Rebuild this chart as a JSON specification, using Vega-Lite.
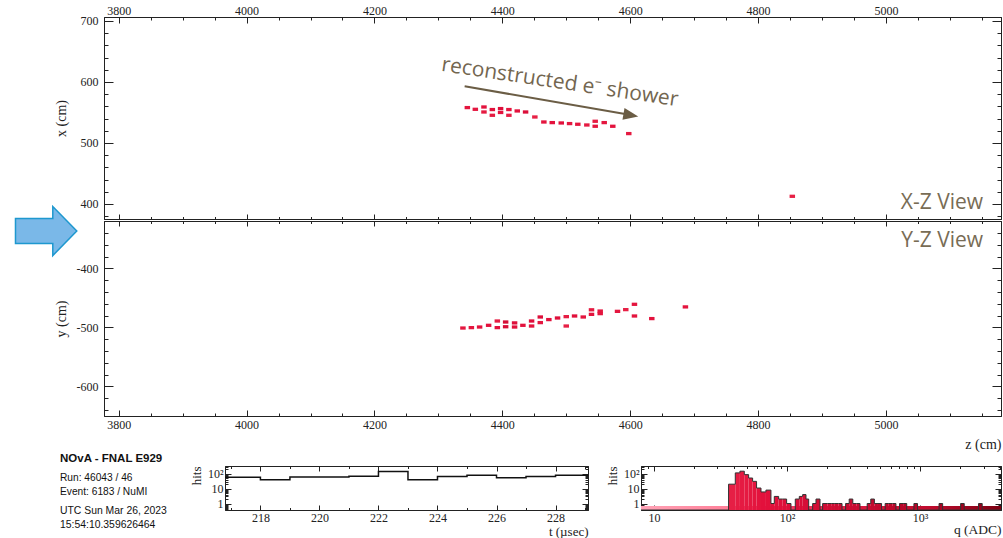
{
  "$schema": "https://vega.github.io/schema/vega-lite/v6.json",
  "background": "white",
  "padding": {"left": 11, "top": 0, "right": 0, "bottom": 0},
  "autosize": {"type": "pad"},
  "spacing": 1,
  "datasets": {
    "xz": [
      {"z": 4345.3, "x": 558.0, "q": 55}, {"z": 4357.8, "x": 555.2, "q": 50}, {"z": 4371.3, "x": 559.0, "q": 60},
      {"z": 4371.3, "x": 550.8, "q": 45}, {"z": 4384.4, "x": 554.8, "q": 70}, {"z": 4384.4, "x": 545.4, "q": 45},
      {"z": 4397.3, "x": 556.4, "q": 90}, {"z": 4397.3, "x": 550.0, "q": 60}, {"z": 4410.3, "x": 554.8, "q": 55},
      {"z": 4410.3, "x": 545.4, "q": 40}, {"z": 4423.4, "x": 552.5, "q": 60}, {"z": 4436.4, "x": 550.8, "q": 100},
      {"z": 4450.9, "x": 542.6, "q": 35}, {"z": 4465.0, "x": 534.4, "q": 55}, {"z": 4478.1, "x": 533.4, "q": 60},
      {"z": 4492.2, "x": 532.8, "q": 70}, {"z": 4505.2, "x": 531.8, "q": 50}, {"z": 4518.1, "x": 530.7, "q": 55},
      {"z": 4532.2, "x": 529.5, "q": 45}, {"z": 4545.3, "x": 535.6, "q": 40}, {"z": 4545.3, "x": 527.4, "q": 55},
      {"z": 4559.4, "x": 533.4, "q": 50}, {"z": 4572.8, "x": 527.4, "q": 60}, {"z": 4597.8, "x": 515.4, "q": 45},
      {"z": 4853.6, "x": 412.6, "q": 35}
    ],
    "yz": [
      {"z": 4338.4, "y": -501.2, "q": 50}, {"z": 4351.6, "y": -500.5, "q": 55}, {"z": 4364.5, "y": -499.5, "q": 60},
      {"z": 4378.6, "y": -496.6, "q": 65}, {"z": 4392.2, "y": -489.3, "q": 40}, {"z": 4392.2, "y": -500.5, "q": 60},
      {"z": 4405.2, "y": -491.0, "q": 150}, {"z": 4405.2, "y": -499.0, "q": 130}, {"z": 4419.2, "y": -492.5, "q": 90},
      {"z": 4419.2, "y": -499.5, "q": 70}, {"z": 4432.2, "y": -496.6, "q": 60}, {"z": 4445.8, "y": -489.3, "q": 80},
      {"z": 4445.8, "y": -497.8, "q": 55}, {"z": 4459.4, "y": -482.5, "q": 90}, {"z": 4459.4, "y": -492.0, "q": 50},
      {"z": 4472.8, "y": -486.9, "q": 70}, {"z": 4486.4, "y": -484.2, "q": 80}, {"z": 4500.0, "y": -481.9, "q": 40},
      {"z": 4500.0, "y": -497.8, "q": 35}, {"z": 4513.0, "y": -480.8, "q": 70}, {"z": 4526.6, "y": -482.5, "q": 55},
      {"z": 4539.5, "y": -470.3, "q": 45}, {"z": 4539.5, "y": -478.0, "q": 60}, {"z": 4553.1, "y": -472.4, "q": 50},
      {"z": 4553.1, "y": -476.8, "q": 55}, {"z": 4580.2, "y": -472.9, "q": 50}, {"z": 4593.1, "y": -470.0, "q": 35},
      {"z": 4606.7, "y": -461.0, "q": 55}, {"z": 4606.7, "y": -480.8, "q": 55}, {"z": 4633.8, "y": -485.2, "q": 60},
      {"z": 4686.4, "y": -465.4, "q": 55}
    ],
    "th": [
      {"t": 216, "n": 59}, {"t": 218, "n": 40}, {"t": 219, "n": 62}, {"t": 221, "n": 69}, {"t": 222, "n": 144},
      {"t": 223, "n": 40}, {"t": 224, "n": 65}, {"t": 225, "n": 81}, {"t": 226, "n": 55}, {"t": 227, "n": 65},
      {"t": 228, "n": 81}, {"t": 230, "n": 81}
    ],
    "qh": [
      {"q0": 8, "q1": 36.4, "n": 0}, {"q0": 36.4, "q1": 40.9, "n": 20}, {"q0": 40.9, "q1": 44.3, "n": 115},
      {"q0": 44.3, "q1": 47.8, "n": 150}, {"q0": 47.8, "q1": 51.5, "n": 88}, {"q0": 51.5, "q1": 55.2, "n": 52},
      {"q0": 55.2, "q1": 59.1, "n": 31}, {"q0": 59.1, "q1": 63.8, "n": 11}, {"q0": 63.8, "q1": 69.5, "n": 6},
      {"q0": 69.5, "q1": 75.8, "n": 8}, {"q0": 75.8, "q1": 80.3, "n": 1}, {"q0": 80.3, "q1": 86.6, "n": 3},
      {"q0": 86.6, "q1": 92.8, "n": 2}, {"q0": 92.8, "q1": 99.4, "n": 2}, {"q0": 99.4, "q1": 107.2, "n": 1},
      {"q0": 107.2, "q1": 115.5, "n": 0}, {"q0": 115.5, "q1": 123.8, "n": 2}, {"q0": 123.8, "q1": 131.2, "n": 3},
      {"q0": 131.2, "q1": 139.0, "n": 4}, {"q0": 139.0, "q1": 145.6, "n": 2}, {"q0": 145.6, "q1": 156.0, "n": 0},
      {"q0": 156.0, "q1": 165.2, "n": 1}, {"q0": 165.2, "q1": 177.1, "n": 2}, {"q0": 177.1, "q1": 185.4, "n": 0},
      {"q0": 185.4, "q1": 202.2, "n": 1}, {"q0": 202.2, "q1": 215.1, "n": 1}, {"q0": 215.1, "q1": 228.9, "n": 1},
      {"q0": 228.9, "q1": 243.6, "n": 1}, {"q0": 243.6, "q1": 259.3, "n": 1}, {"q0": 259.3, "q1": 275.9, "n": 0},
      {"q0": 275.9, "q1": 293.6, "n": 1}, {"q0": 293.6, "q1": 312.5, "n": 2}, {"q0": 312.5, "q1": 332.5, "n": 1},
      {"q0": 332.5, "q1": 353.9, "n": 1}, {"q0": 353.9, "q1": 400.8, "n": 0}, {"q0": 400.8, "q1": 426.5, "n": 1},
      {"q0": 426.5, "q1": 453.9, "n": 2}, {"q0": 453.9, "q1": 483.0, "n": 1}, {"q0": 483.0, "q1": 514.0, "n": 1},
      {"q0": 514.0, "q1": 547.0, "n": 0}, {"q0": 547.0, "q1": 582.1, "n": 1}, {"q0": 582.1, "q1": 619.5, "n": 1},
      {"q0": 619.5, "q1": 659.2, "n": 1}, {"q0": 659.2, "q1": 701.5, "n": 0}, {"q0": 701.5, "q1": 746.6, "n": 1},
      {"q0": 746.6, "q1": 794.5, "n": 1}, {"q0": 794.5, "q1": 899.8, "n": 0}, {"q0": 899.8, "q1": 957.6, "n": 1},
      {"q0": 957.6, "q1": 1389.9, "n": 0}, {"q0": 1389.9, "q1": 1479.1, "n": 1}, {"q0": 1479.1, "q1": 2018.8, "n": 0},
      {"q0": 2018.8, "q1": 2148.4, "n": 1}, {"q0": 2148.4, "q1": 2753.4, "n": 0}, {"q0": 2753.4, "q1": 2932.2, "n": 1},
      {"q0": 2932.2, "q1": 4060, "n": 0}, {"q0": 4060, "q1": 4060, "n": 0}
    ]
  },
  "vconcat": [
    {
      "vconcat": [
        {
          "width": 897,
          "height": 202,
          "layer": [
            {
              "data": {"name": "xz"},
              "mark": {"type": "point", "shape": "M-1,-0.6H1V0.6H-1Z", "filled": true, "size": 30, "opacity": 1},
              "encoding": {
                "x": {"field": "z", "type": "quantitative",
                  "scale": {"domain": [3777, 5180], "nice": false, "zero": false},
                  "axis": {"orient": "top", "title": null,
                    "values": [3800,3850,3900,3950,4000,4050,4100,4150,4200,4250,4300,4350,4400,4450,4500,4550,4600,4650,4700,4750,4800,4850,4900,4950,5000,5050,5100,5150],
                    "tickSize": {"condition": {"test": "datum.value % 200 === 0", "value": -6}, "value": -3},
                    "labelExpr": "datum.value % 200 === 0 ? '' + datum.value : ''",
                    "labelPadding": 6}},
                "y": {"field": "x", "type": "quantitative",
                  "scale": {"domain": [375.4, 706.5], "nice": false, "zero": false},
                  "axis": {"orient": "left", "title": "x (cm)",
                    "values": [380,400,420,440,460,480,500,520,540,560,580,600,620,640,660,680,700],
                    "tickSize": {"condition": {"test": "datum.value % 100 === 0", "value": -9}, "value": -4},
                    "labelExpr": "datum.value % 100 === 0 ? '' + datum.value : ''",
                    "labelPadding": 15, "titlePadding": 12}},
                "color": {"field": "q", "type": "quantitative",
                  "scale": {"domain": [30, 60, 150, 400], "range": ["#ee3a5c", "#e3103c", "#c00a2e", "#900018"]},
                  "legend": null}
              }
            },
            {
              "data": {"values": [{}]},
              "mark": {"type": "rule", "color": "#6b5d45", "strokeWidth": 2},
              "encoding": {
                "x": {"datum": 4341.1, "type": "quantitative",
                  "axis": {"orient": "bottom", "title": null, "labels": false,
                    "values": [3800,3850,3900,3950,4000,4050,4100,4150,4200,4250,4300,4350,4400,4450,4500,4550,4600,4650,4700,4750,4800,4850,4900,4950,5000,5050,5100,5150],
                    "tickSize": {"condition": {"test": "datum.value % 200 === 0", "value": -5}, "value": -2.5}}},
                "y": {"datum": 593.0, "type": "quantitative",
                  "axis": {"orient": "right", "title": null, "labels": false,
                    "values": [380,400,420,440,460,480,500,520,540,560,580,600,620,640,660,680,700],
                    "tickSize": {"condition": {"test": "datum.value % 100 === 0", "value": -9}, "value": -4}}},
                "x2": {"datum": 4601.1},
                "y2": {"datum": 545.7}
              }
            },
            {
              "data": {"values": [{}]},
              "mark": {"type": "point", "shape": "M1,0L-1,-0.8L-1,0.8Z", "size": 225, "filled": true, "opacity": 1, "color": "#6b5d45", "angle": 9.8},
              "encoding": {
                "x": {"datum": 4601.1, "type": "quantitative", "axis": null},
                "y": {"datum": 545.7, "type": "quantitative", "axis": null}
              }
            },
            {
              "data": {"values": [{}]},
              "mark": {"type": "text", "angle": 8.5, "font": "Open Sans", "fontSize": 21, "color": "#736650", "align": "center", "baseline": "middle"},
              "encoding": {
                "x": {"datum": 4490, "type": "quantitative", "axis": null},
                "y": {"datum": 599, "type": "quantitative", "axis": null},
                "text": {"value": "reconstructed e⁻ shower"}
              }
            },
            {
              "data": {"values": [{}]},
              "mark": {"type": "text", "font": "Open Sans", "fontSize": 21, "color": "#786c55", "align": "right", "baseline": "middle"},
              "encoding": {
                "x": {"datum": 5152, "type": "quantitative", "axis": null},
                "y": {"datum": 402, "type": "quantitative", "axis": null},
                "text": {"value": "X-Z View"}
              }
            }
          ],
          "resolve": {"axis": {"x": "independent", "y": "independent"}}
        },
        {
          "width": 897,
          "height": 195,
          "layer": [
            {
              "data": {"name": "yz"},
              "mark": {"type": "point", "shape": "M-1,-0.6H1V0.6H-1Z", "filled": true, "size": 30, "opacity": 1},
              "encoding": {
                "x": {"field": "z", "type": "quantitative",
                  "scale": {"domain": [3777, 5180], "nice": false, "zero": false},
                  "axis": {"orient": "bottom", "title": "z (cm)", "titleAnchor": "end",
                    "values": [3800,3850,3900,3950,4000,4050,4100,4150,4200,4250,4300,4350,4400,4450,4500,4550,4600,4650,4700,4750,4800,4850,4900,4950,5000,5050,5100,5150],
                    "tickSize": {"condition": {"test": "datum.value % 200 === 0", "value": -6}, "value": -3},
                    "labelExpr": "datum.value % 200 === 0 ? '' + datum.value : ''",
                    "labelPadding": 9, "titlePadding": 4}},
                "y": {"field": "y", "type": "quantitative",
                  "scale": {"domain": [-650.3, -319.8], "nice": false, "zero": false},
                  "axis": {"orient": "left", "title": "y (cm)",
                    "values": [-640,-620,-600,-580,-560,-540,-520,-500,-480,-460,-440,-420,-400,-380,-360,-340,-320],
                    "tickSize": {"condition": {"test": "datum.value % 100 === 0", "value": -9}, "value": -4},
                    "labelExpr": "datum.value % 100 === 0 ? '' + datum.value : ''",
                    "labelPadding": 15, "titlePadding": 8}},
                "color": {"field": "q", "type": "quantitative",
                  "scale": {"domain": [30, 60, 150, 400], "range": ["#ee3a5c", "#e3103c", "#c00a2e", "#900018"]},
                  "legend": null}
              }
            },
            {
              "data": {"values": [{}]},
              "mark": {"type": "point", "shape": "M-1,-0.408L0.217,-0.408L0.217,-0.8L1,0L0.217,0.8L0.217,0.408L-1,0.408Z", "size": 3758, "filled": true, "opacity": 1, "fill": "#7ab8e8", "stroke": "#1e98cf", "strokeWidth": 1.5},
              "encoding": {
                "x": {"datum": 3686.5, "type": "quantitative",
                  "axis": {"orient": "top", "title": null, "labels": false,
                    "values": [3800,3850,3900,3950,4000,4050,4100,4150,4200,4250,4300,4350,4400,4450,4500,4550,4600,4650,4700,4750,4800,4850,4900,4950,5000,5050,5100,5150],
                    "tickSize": {"condition": {"test": "datum.value % 200 === 0", "value": -5}, "value": -2.5}}},
                "y": {"datum": -336.8, "type": "quantitative",
                  "axis": {"orient": "right", "title": null, "labels": false,
                    "values": [-640,-620,-600,-580,-560,-540,-520,-500,-480,-460,-440,-420,-400,-380,-360,-340,-320],
                    "tickSize": {"condition": {"test": "datum.value % 100 === 0", "value": -9}, "value": -4}}}
              }
            },
            {
              "data": {"values": [{}]},
              "mark": {"type": "text", "font": "Open Sans", "fontSize": 21, "color": "#786c55", "align": "right", "baseline": "middle"},
              "encoding": {
                "x": {"datum": 5152, "type": "quantitative", "axis": null},
                "y": {"datum": -353.9, "type": "quantitative", "axis": null},
                "text": {"value": "Y-Z View"}
              }
            }
          ],
          "resolve": {"axis": {"x": "independent", "y": "independent"}}
        }
      ],
      "spacing": 2,
      "bounds": "flush"
    },
    {
      "hconcat": [
        {
          "width": 68,
          "height": 44,
          "view": {"stroke": null},
          "data": {"values": [{}]},
          "layer": [
            {
              "mark": {"type": "text", "align": "left", "baseline": "middle", "font": "Liberation Sans", "fontWeight": "bold", "fontSize": 11.5, "color": "#111"},
              "encoding": {
                "x": {"datum": -44, "type": "quantitative", "scale": {"domain": [0, 68], "nice": false, "zero": false}, "axis": null},
                "y": {"datum": -6.8, "type": "quantitative", "scale": {"domain": [0, 44], "nice": false, "zero": false, "reverse": true}, "axis": null},
                "text": {"value": "NOvA - FNAL E929"}
              }
            },
            {
              "mark": {"type": "text", "align": "left", "baseline": "middle", "font": "Liberation Sans", "fontSize": 10.2, "color": "#111"},
              "encoding": {
                "x": {"datum": -44, "type": "quantitative", "axis": null},
                "y": {"datum": 12.2, "type": "quantitative", "axis": null},
                "text": {"value": "Run:   46043 / 46"}
              }
            },
            {
              "mark": {"type": "text", "align": "left", "baseline": "middle", "font": "Liberation Sans", "fontSize": 10.2, "color": "#111"},
              "encoding": {
                "x": {"datum": -44, "type": "quantitative", "axis": null},
                "y": {"datum": 25.7, "type": "quantitative", "axis": null},
                "text": {"value": "Event: 6183 / NuMI"}
              }
            },
            {
              "mark": {"type": "text", "align": "left", "baseline": "middle", "font": "Liberation Sans", "fontSize": 10.4, "color": "#111"},
              "encoding": {
                "x": {"datum": -44, "type": "quantitative", "axis": null},
                "y": {"datum": 44.7, "type": "quantitative", "axis": null},
                "text": {"value": "UTC Sun Mar 26, 2023"}
              }
            },
            {
              "mark": {"type": "text", "align": "left", "baseline": "middle", "font": "Liberation Sans", "fontSize": 10.4, "color": "#111"},
              "encoding": {
                "x": {"datum": -44, "type": "quantitative", "axis": null},
                "y": {"datum": 58.7, "type": "quantitative", "axis": null},
                "text": {"value": "15:54:10.359626464"}
              }
            }
          ]
        },
        {
          "width": 363,
          "height": 44,
          "layer": [
            {
              "data": {"name": "th"},
              "mark": {"type": "line", "interpolate": "step-after", "color": "#111", "strokeWidth": 1.5, "clip": true},
              "encoding": {
                "x": {"field": "t", "type": "quantitative",
                  "scale": {"domain": [216.8, 229.1], "nice": false, "zero": false},
                  "axis": {"orient": "bottom", "title": "t (µsec)", "titleAnchor": "end", "titleFontSize": 13,
                    "values": [217,218,219,220,221,222,223,224,225,226,227,228,229],
                    "tickSize": {"condition": {"test": "datum.value % 2 === 0", "value": -5}, "value": -2.5},
                    "labelExpr": "datum.value % 2 === 0 ? '' + datum.value : ''",
                    "labelPadding": 7, "titlePadding": 0}},
                "y": {"field": "n", "type": "quantitative",
                  "scale": {"type": "log", "domain": [0.366, 335], "nice": false, "clamp": true},
                  "axis": {"orient": "left", "title": "hits", "titleAnchor": "end", "titleFontSize": 13,
                    "values": [0.4,0.5,0.6,0.7,0.8,0.9,1,2,3,4,5,6,7,8,9,10,20,30,40,50,60,70,80,90,100,200,300],
                    "tickSize": {"condition": {"test": "datum.value === 1 || datum.value === 10 || datum.value === 100", "value": -6}, "value": -3},
                    "labelExpr": "datum.value === 1 ? '1' : datum.value === 10 ? '10' : datum.value === 100 ? '10²' : ''",
                    "labelPadding": 8, "titlePadding": 4}}
              }
            },
            {
              "data": {"values": [{}]},
              "mark": {"type": "point", "opacity": 0},
              "encoding": {
                "x": {"datum": 220, "type": "quantitative",
                  "axis": {"orient": "top", "title": null, "labels": false,
                    "values": [217,218,219,220,221,222,223,224,225,226,227,228,229],
                    "tickSize": {"condition": {"test": "datum.value % 2 === 0", "value": -5}, "value": -2.5}}},
                "y": {"datum": 10, "type": "quantitative", "scale": {"type": "log"},
                  "axis": {"orient": "right", "title": null, "labels": false,
                    "values": [0.4,0.5,0.6,0.7,0.8,0.9,1,2,3,4,5,6,7,8,9,10,20,30,40,50,60,70,80,90,100,200,300],
                    "tickSize": {"condition": {"test": "datum.value === 1 || datum.value === 10 || datum.value === 100", "value": -6}, "value": -3}}}
              }
            }
          ],
          "resolve": {"axis": {"x": "independent", "y": "independent"}}
        },
        {
          "width": 360,
          "height": 44,
          "layer": [
            {
              "data": {"values": [{}]},
              "mark": {"type": "rect", "fill": {"gradient": "linear", "x1": 0, "y1": 0, "x2": 1, "y2": 0,
                "stops": [{"offset": 0, "color": "#ffa3b6"}, {"offset": 0.24, "color": "#ff8099"}, {"offset": 0.4, "color": "#f53d64"}, {"offset": 0.6, "color": "#dc1a40"}, {"offset": 0.8, "color": "#c00c2e"}, {"offset": 1, "color": "#7c0012"}]}},
              "encoding": {
                "x": {"datum": 8, "type": "quantitative", "scale": {"type": "log", "domain": [8, 4060], "nice": false}, "axis": null},
                "x2": {"datum": 4060},
                "y": {"datum": 0.69, "type": "quantitative", "scale": {"type": "log", "domain": [0.366, 335], "nice": false, "clamp": true}, "axis": null},
                "y2": {"datum": 0.366}
              }
            },
            {
              "data": {"name": "qh"},
              "transform": [{"filter": "datum.n > 0"}],
              "mark": {"type": "rect"},
              "encoding": {
                "x": {"field": "q0", "type": "quantitative", "axis": null},
                "x2": {"field": "q1"},
                "y": {"field": "n", "type": "quantitative", "axis": null},
                "y2": {"datum": 0.366},
                "color": {"field": "q0", "type": "quantitative",
                  "scale": {"type": "log", "domain": [8, 36, 60, 150, 500, 4060], "range": ["#ffa3b6", "#ff7894", "#ff5c7c", "#f03358", "#d0123a", "#7c0012"]},
                  "legend": null}
              }
            },
            {
              "data": {"name": "qh"},
              "mark": {"type": "line", "interpolate": "step-after", "color": "#333", "strokeWidth": 1, "clip": true},
              "encoding": {
                "x": {"field": "q0", "type": "quantitative",
                  "axis": {"orient": "bottom", "title": "q (ADC)", "titleAnchor": "end", "titleFontSize": 13.5,
                    "values": [9,10,20,30,40,50,60,70,80,90,100,200,300,400,500,600,700,800,900,1000,2000,3000,4000],
                    "tickSize": {"condition": {"test": "datum.value === 10 || datum.value === 100 || datum.value === 1000", "value": -5}, "value": -2.5},
                    "labelExpr": "datum.value === 10 ? '10' : datum.value === 100 ? '10²' : datum.value === 1000 ? '10³' : ''",
                    "labelPadding": 7, "titlePadding": -3}},
                "y": {"field": "n", "type": "quantitative",
                  "axis": {"orient": "left", "title": "hits", "titleAnchor": "end", "titleFontSize": 13,
                    "values": [0.4,0.5,0.6,0.7,0.8,0.9,1,2,3,4,5,6,7,8,9,10,20,30,40,50,60,70,80,90,100,200,300],
                    "tickSize": {"condition": {"test": "datum.value === 1 || datum.value === 10 || datum.value === 100", "value": -6}, "value": -3},
                    "labelExpr": "datum.value === 1 ? '1' : datum.value === 10 ? '10' : datum.value === 100 ? '10²' : ''",
                    "labelPadding": 8, "titlePadding": 4}}
              }
            },
            {
              "data": {"values": [{}]},
              "mark": {"type": "point", "opacity": 0},
              "encoding": {
                "x": {"datum": 100, "type": "quantitative", "scale": {"type": "log"},
                  "axis": {"orient": "top", "title": null, "labels": false,
                    "values": [9,10,20,30,40,50,60,70,80,90,100,200,300,400,500,600,700,800,900,1000,2000,3000,4000],
                    "tickSize": {"condition": {"test": "datum.value === 10 || datum.value === 100 || datum.value === 1000", "value": -5}, "value": -2.5}}},
                "y": {"datum": 10, "type": "quantitative", "scale": {"type": "log"},
                  "axis": {"orient": "right", "title": null, "labels": false,
                    "values": [0.4,0.5,0.6,0.7,0.8,0.9,1,2,3,4,5,6,7,8,9,10,20,30,40,50,60,70,80,90,100,200,300],
                    "tickSize": {"condition": {"test": "datum.value === 1 || datum.value === 10 || datum.value === 100", "value": -6}, "value": -3}}}
              }
            }
          ],
          "resolve": {"axis": {"x": "independent", "y": "independent"}}
        }
      ],
      "spacing": 53,
      "bounds": "flush"
    }
  ],
  "config": {
    "view": {"stroke": "#222", "strokeWidth": 1},
    "axis": {
      "domainColor": "#222", "tickColor": "#222", "labelColor": "#222", "titleColor": "#222",
      "labelFont": "Liberation Serif", "titleFont": "Liberation Serif", "titleFontWeight": "normal",
      "labelFontSize": 12, "titleFontSize": 14, "grid": false, "labelFlush": false, "labelOverlap": false,
      "tickWidth": 1, "domainWidth": 1
    },
    "font": "Liberation Sans"
  }
}
